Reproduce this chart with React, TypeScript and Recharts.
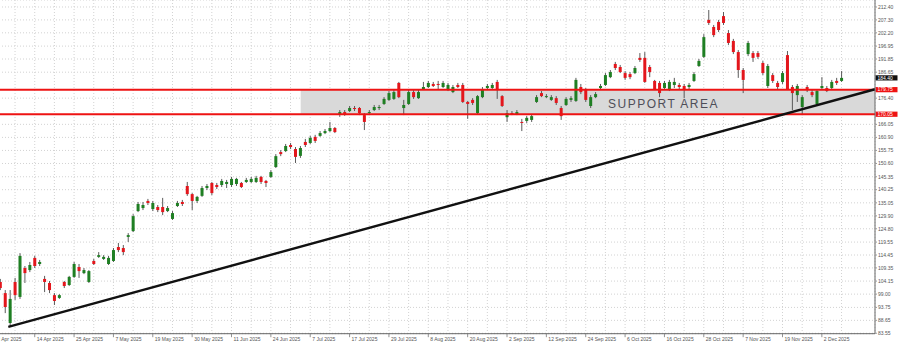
import { ComposedChart, Bar, XAxis, YAxis, CartesianGrid, ReferenceLine, ReferenceArea } from 'recharts';

// ─── Daily OHLC, 2 Apr 2025 → 8 Dec 2025 ──────────────────────────────────────

const opens = [
  103.8, 99.4, 87.6, 103.8, 97.9, 109.3, 108.5, 113.3, 110.9, 105.0, 103.4, 98.6,
  97.5, 103.8, 102.6, 105.8, 109.7, 107.3, 103.8, 112.1, 113.7, 112.9, 110.9, 112.1,
  117.6, 117.2, 121.6, 123.9, 131.8, 133.0, 135.8, 132.6, 133.4, 133.4, 131.8, 128.7,
  133.8, 135.4, 141.7, 138.5, 135.8, 137.8, 140.9, 142.9, 142.1, 142.1, 142.5, 142.1,
  142.5, 142.9, 143.3, 143.3, 143.3, 145.3, 143.7, 145.3, 149.2, 155.1, 155.5, 157.9,
  156.3, 153.6, 159.1, 158.7, 161.1, 161.5, 162.6, 163.4, 164.6, 170.1, 170.9, 171.3,
  172.5, 172.5, 169.7, 170.5, 171.7, 172.5, 174.1, 175.7, 176.1, 182.4, 172.5, 174.1,
  178.8, 176.4, 180.0, 180.8, 182.0, 182.0, 180.8, 179.6, 178.8, 181.6, 181.6, 174.9,
  175.7, 170.5, 176.8, 180.4, 180.4, 182.8, 177.2, 168.9, 170.5, 170.1, 167.0, 167.4,
  167.8, 174.9, 178.4, 176.8, 175.7, 176.4, 172.5, 173.7, 175.7, 175.3, 180.8, 179.6,
  173.3, 176.8, 180.4, 181.6, 184.7, 189.9, 188.7, 186.3, 185.9, 186.3, 192.3, 192.3,
  188.7, 183.2, 182.4, 180.4, 179.6, 181.6, 181.6, 181.2, 180.8, 183.2, 189.1, 192.7,
  207.3, 204.5, 206.5, 208.8, 202.1, 199.0, 194.6, 187.5, 193.8, 194.2, 194.2, 190.3,
  181.2, 185.5, 182.4, 182.8, 193.4, 180.8, 177.6, 172.9, 180.8, 178.8, 174.1, 180.4,
  180.4, 180.4, 183.2, 183.2,
];
const highs = [
  105.0, 100.6, 100.6, 105.4, 115.2, 110.1, 111.7, 114.1, 112.5, 106.2, 104.2, 99.4,
  99.0, 104.2, 106.2, 111.7, 110.9, 109.3, 108.5, 112.9, 115.6, 114.4, 114.1, 117.2,
  119.2, 118.4, 123.1, 130.6, 135.4, 135.4, 136.6, 135.8, 134.2, 137.0, 133.8, 131.8,
  135.8, 136.2, 143.3, 138.9, 137.8, 141.7, 142.5, 143.3, 142.9, 144.5, 144.1, 145.3,
  144.9, 143.3, 144.9, 145.3, 145.7, 145.7, 144.1, 148.0, 154.3, 155.9, 158.3, 158.7,
  157.1, 157.5, 160.3, 161.5, 161.9, 163.4, 164.2, 167.0, 165.0, 171.7, 171.7, 173.3,
  173.3, 172.9, 170.5, 171.7, 173.7, 173.7, 176.8, 179.2, 179.6, 182.8, 175.7, 179.6,
  179.6, 179.6, 182.8, 183.2, 182.8, 183.2, 183.2, 182.4, 181.6, 182.4, 182.4, 175.3,
  176.4, 177.6, 180.8, 182.0, 182.4, 183.6, 177.6, 171.7, 171.3, 171.7, 168.2, 169.4,
  170.1, 177.6, 179.2, 178.0, 177.6, 177.2, 173.3, 176.8, 177.2, 184.4, 182.0, 180.4,
  177.6, 178.8, 182.0, 186.3, 187.5, 190.7, 189.5, 187.1, 186.7, 189.1, 194.2, 194.6,
  189.5, 183.6, 183.2, 183.2, 183.6, 184.4, 182.4, 182.0, 182.4, 186.7, 191.9, 201.7,
  211.2, 205.3, 207.3, 210.4, 203.3, 199.8, 195.4, 188.3, 199.0, 195.0, 195.0, 191.1,
  189.9, 186.3, 183.2, 187.1, 195.0, 181.6, 182.0, 177.6, 181.6, 179.6, 180.0, 184.7,
  181.2, 183.6, 184.4, 187.1,
];
const lows = [
  100.6, 91.5, 86.0, 96.7, 97.1, 103.4, 107.7, 109.3, 110.1, 99.8, 99.4, 94.7,
  97.1, 101.4, 102.2, 105.4, 105.4, 106.9, 103.4, 110.5, 113.3, 112.5, 110.5, 111.7,
  115.6, 114.4, 119.6, 123.5, 131.4, 132.2, 134.2, 131.8, 131.4, 130.2, 131.4, 128.3,
  133.4, 133.8, 137.8, 132.2, 135.0, 137.4, 140.1, 138.1, 140.5, 141.3, 140.9, 141.3,
  141.7, 140.9, 142.9, 142.9, 142.9, 142.5, 141.3, 144.9, 148.8, 153.5, 155.1, 156.3,
  150.8, 152.8, 157.1, 158.3, 158.7, 161.1, 162.2, 163.0, 162.6, 169.0, 169.4, 170.9,
  171.3, 169.7, 163.8, 169.7, 171.3, 171.7, 173.7, 175.3, 175.7, 176.4, 169.7, 173.7,
  176.1, 176.1, 179.6, 180.4, 180.8, 180.0, 180.4, 179.2, 178.4, 180.4, 174.5, 168.2,
  173.7, 170.1, 176.4, 179.6, 180.0, 176.1, 172.9, 167.0, 169.7, 169.7, 163.4, 166.6,
  167.0, 174.5, 176.8, 176.4, 175.3, 173.7, 167.8, 173.3, 174.9, 174.9, 178.0, 174.9,
  172.5, 176.4, 179.6, 181.2, 184.3, 187.5, 186.3, 183.6, 183.9, 185.9, 190.7, 182.4,
  184.7, 179.6, 176.8, 180.0, 179.2, 180.4, 180.0, 176.4, 180.0, 182.8, 188.7, 192.3,
  205.3, 200.5, 202.5, 205.3, 197.4, 193.8, 184.4, 178.4, 193.0, 190.7, 191.9, 185.5,
  180.4, 182.4, 180.0, 182.0, 179.6, 171.7, 174.9, 169.7, 178.8, 176.8, 173.3, 179.6,
  178.8, 180.0, 181.6, 182.8,
];
const closes = [
  101.4, 93.9, 97.1, 98.6, 114.1, 107.3, 110.5, 110.1, 111.7, 103.8, 100.6, 96.3,
  98.6, 102.2, 105.8, 110.9, 108.1, 108.5, 108.1, 110.9, 114.4, 113.7, 113.3, 116.4,
  116.4, 115.6, 122.3, 129.8, 134.6, 134.2, 135.0, 135.0, 132.2, 131.4, 133.0, 131.0,
  135.0, 134.6, 138.5, 135.8, 137.4, 140.9, 141.7, 138.9, 141.3, 143.7, 143.3, 144.5,
  144.5, 141.3, 144.1, 144.5, 144.9, 143.3, 142.9, 147.2, 153.5, 154.3, 157.5, 157.1,
  153.2, 156.7, 157.9, 160.7, 159.5, 162.6, 163.4, 164.6, 163.0, 170.9, 170.1, 172.5,
  172.1, 170.5, 167.0, 170.9, 172.9, 172.9, 176.1, 178.4, 178.8, 176.8, 173.7, 178.8,
  176.8, 178.8, 180.8, 182.4, 181.2, 181.6, 182.4, 181.6, 180.8, 180.8, 174.9, 174.1,
  174.5, 177.2, 180.0, 181.2, 181.6, 179.6, 173.3, 170.5, 170.1, 170.9, 166.6, 168.6,
  169.3, 176.8, 177.2, 177.2, 176.8, 174.5, 169.3, 176.1, 176.4, 183.6, 178.8, 175.7,
  176.8, 178.0, 181.2, 185.5, 186.7, 188.3, 186.7, 184.4, 184.7, 188.3, 191.5, 182.8,
  186.7, 180.0, 178.4, 182.4, 182.8, 182.8, 180.8, 180.0, 181.6, 185.9, 191.1, 200.5,
  206.1, 201.3, 203.3, 206.1, 198.2, 194.6, 187.5, 183.6, 198.2, 192.3, 192.7, 186.3,
  189.1, 183.2, 180.8, 186.3, 180.0, 178.4, 181.2, 176.8, 179.6, 177.6, 179.2, 181.2,
  179.2, 182.8, 182.4, 184.4,
];

// x-axis labels sit every 8 sessions; bar index of each label
const xLabels = [
  '2 Apr 2025', '14 Apr 2025', '25 Apr 2025', '7 May 2025', '19 May 2025', '30 May 2025',
  '11 Jun 2025', '24 Jun 2025', '7 Jul 2025', '17 Jul 2025', '29 Jul 2025', '8 Aug 2025',
  '20 Aug 2025', '2 Sep 2025', '12 Sep 2025', '24 Sep 2025', '6 Oct 2025', '16 Oct 2025',
  '28 Oct 2025', '7 Nov 2025', '19 Nov 2025', '2 Dec 2025',
];
const xLabelIdx = [-1, 7, 15, 23, 31, 39, 47, 55, 63, 71, 79, 87, 95, 103, 111, 119, 127, 135, 143, 151, 159, 167];

const yTicks = [
  212.4, 207.3, 202.2, 196.95, 191.85, 186.65, 176.4, 166.05, 160.9, 155.75, 150.6, 145.35,
  140.25, 135.05, 129.9, 124.8, 119.55, 114.45, 109.35, 104.15, 99.0, 93.75, 88.65, 83.55,
];

const supportTop = 179.75;
const supportBottom = 170.05;
const supportFrom = 61.06; // bar index where the shaded zone begins
const trendStart = { x: 1.63, y: 86.1 };
const trendEnd = { x: 177.8, y: 179.9 };

const X_DOMAIN: [number, number] = [-2.09, 177.8];
const Y_DOMAIN: [number, number] = [83.37, 215.16];

const UP = '#1f7f23';
const DOWN = '#e3161c';
const LINE_RED = '#ee1313';

const data = opens.map((o, i) => ({ i, o, h: highs[i], l: lows[i], c: closes[i] }));
const gridTicks = xLabelIdx.flatMap(v => [v, v + 4]);
const lastClose = closes[closes.length - 1];

function Candle(props: any) {
  const { x, y, width, height, payload } = props;
  const { o, h, l, c } = payload;
  const span = h - l || 1;
  const py = (v: number) => y + ((h - v) / span) * height;
  const cx = x + width / 2;
  const top = py(Math.max(o, c));
  const bot = py(Math.min(o, c));
  return (
    <g>
      <line x1={cx} x2={cx} y1={y} y2={y + height} stroke="#4a4a4a" strokeWidth={0.9} />
      <rect x={cx - 1.5} y={top} width={3} height={Math.max(1, bot - top)} fill={c >= o ? UP : DOWN} />
    </g>
  );
}

function DateTick(props: any) {
  const { x, y, payload } = props;
  const k = xLabelIdx.indexOf(payload.value);
  if (k < 0) return <g />;
  return (
    <g>
      <line x1={x} x2={x} y1={y} y2={y + 3.5} stroke="#777" strokeWidth={0.8} />
      <text x={x + 2} y={y + 6.8} fontSize={5} fill="#555">{xLabels[k]}</text>
    </g>
  );
}

function PriceTag(props: any) {
  const { viewBox, text, bg } = props;
  const right = viewBox.x + viewBox.width;
  return (
    <g>
      <rect x={right + 0.5} y={viewBox.y - 2.6} width={22} height={5.2} fill={bg} />
      <text x={right + 2.5} y={viewBox.y + 1.8} fontSize={5} fill="#fff">{text}</text>
    </g>
  );
}

function SupportLabel(props: any) {
  const { viewBox } = props;
  return (
    <text
      x={viewBox.x + 307.3}
      y={viewBox.y + viewBox.height / 2 + 6.3}
      fontSize={12}
      letterSpacing={1.5}
      fill="#4e4e58"
    >
      SUPPORT AREA
    </text>
  );
}

export default function App() {
  return (
    <div style={{ position: 'absolute', left: -10, top: 0, background: '#fff', fontFamily: 'Arial, "Liberation Sans", sans-serif' }}>
      <ComposedChart width={910} height={342} data={data} margin={{ top: 0, right: 0, bottom: 0, left: 0 }}>
        <CartesianGrid stroke="#d2d2d2" strokeDasharray="1 2" />
        <XAxis
          type="number"
          dataKey="i"
          domain={X_DOMAIN}
          allowDataOverflow
          ticks={gridTicks}
          interval={0}
          tick={<DateTick />}
          tickLine={false}
          tickSize={0}
          tickMargin={0}
          height={8.3}
          axisLine={{ stroke: '#666' }}
        />
        <YAxis
          orientation="right"
          type="number"
          domain={Y_DOMAIN}
          allowDataOverflow
          ticks={yTicks}
          interval={0}
          width={25}
          tick={{ fontSize: 5, fill: '#555' }}
          tickFormatter={(v: number) => v.toFixed(2)}
          tickSize={2}
          tickMargin={1}
          tickLine={{ stroke: '#999' }}
          axisLine={{ stroke: '#666' }}
        />
        <ReferenceArea
          x1={supportFrom}
          x2={X_DOMAIN[1]}
          y1={supportBottom}
          y2={supportTop}
          fill="#d9d9d9"
          fillOpacity={1}
          stroke="none"
          label={<SupportLabel />}
        />
        <Bar dataKey={(d: any) => [d.l, d.h]} barSize={3} shape={<Candle />} isAnimationActive={false} />
        <ReferenceLine y={supportTop} stroke={LINE_RED} strokeWidth={2} label={<PriceTag text={supportTop.toFixed(2)} bg={LINE_RED} />} />
        <ReferenceLine y={supportBottom} stroke={LINE_RED} strokeWidth={2} label={<PriceTag text={supportBottom.toFixed(2)} bg={LINE_RED} />} />
        <ReferenceLine segment={[trendStart, trendEnd]} stroke="#111" strokeWidth={2.4} />
        <ReferenceLine y={lastClose} stroke="none" label={<PriceTag text={lastClose.toFixed(2)} bg="#111" />} />
      </ComposedChart>
    </div>
  );
}
